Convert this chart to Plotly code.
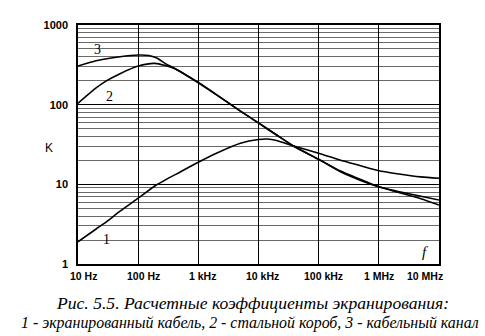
import numpy as np
import plotly.graph_objects as go

# ---- data ----
f1 = [10, 20, 30, 50, 100, 200, 500, 1e3, 2e3, 5e3, 1e4, 1.4e4, 2e4, 4e4, 1e5, 2.26e5, 5e5, 1e6, 2e6, 5e6, 1e7]
k1 = [1.9, 2.75, 3.4, 4.6, 6.7, 9.8, 14.3, 18.9, 24.5, 32.7, 36.5, 37, 35.5, 30, 24.5, 20.2, 17.1, 14.8, 13.6, 12.4, 11.9]

f2 = [10, 20, 30, 50, 100, 190, 400, 1e3, 2e3, 5e3, 1e4, 2e4, 4e4, 1e5, 2.26e5, 5e5, 1e6, 2e6, 5e6, 1e7]
k2 = [104, 162, 200, 245, 305, 330, 285, 188, 133, 83, 59, 41.6, 29.6, 20.6, 14.5, 11.2, 9.3, 8.0, 6.6, 5.5]

f3 = [10, 20, 50, 100, 150, 200, 300, 400, 1e3, 2e3, 5e3, 1e4, 2e4, 4e4, 1e5, 2.26e5, 5e5, 1e6, 2e6, 5e6, 1e7]
k3 = [305, 356, 400, 420, 415, 388, 320, 287, 190, 134, 83, 59, 41.6, 29.6, 20.6, 14.8, 11.5, 9.3, 8.2, 7.1, 6.35]

x_tickvals = [10, 100, 1e3, 1e4, 1e5, 1e6, 1e7]
x_ticktext = ["10 Hz", "100 Hz", "1 kHz", "10 kHz", "100 kHz", "1 MHz", "10 MHz"]
y_tickvals = [1, 10, 100, 1000]
y_ticktext = ["1", "10", "100", "1000"]

curve_labels = ["1", "2", "3"]
curve_label_pos = [(30, 2.06), (34, 128), (20.7, 499)]

caption1 = "Рис. 5.5. Расчетные коэффициенты экранирования:"
caption2 = "1 - экранированный кабель, 2 - стальной короб, 3 - кабельный канал"

# ---- styling ----
x_label_shift = [5, 5, 4, 4, 5, 0, -14]
minor_y = [m * 10 ** e for e in range(0, 3) for m in range(2, 10)]

fig = go.Figure()
for f, k in [(f1, k1), (f2, k2), (f3, k3)]:
    fig.add_trace(go.Scatter(x=f, y=k, mode="lines",
                             line=dict(color="black", width=1.6, shape="spline", smoothing=0.6),
                             showlegend=False, hoverinfo="skip"))

fig.update_layout(
    width=485, height=336,
    margin=dict(l=78, r=46, t=25, b=72),
    paper_bgcolor="white", plot_bgcolor="white",
    font=dict(family="Liberation Sans, Arial", color="black"),
)
fig.update_xaxes(type="log", range=[1, 7], tickvals=x_tickvals, showticklabels=False,
                 showgrid=True, gridcolor="black", gridwidth=1,
                 showline=True, linecolor="black", linewidth=1.5, mirror=True,
                 ticks="", zeroline=False)
fig.update_yaxes(type="log", range=[0, 3], tickvals=y_tickvals,
                 ticktext=["<b>" + t + "</b>" for t in y_ticktext],
                 tickfont=dict(size=11, family="Liberation Sans, Arial", color="black"),
                 showgrid=True, gridcolor="black", gridwidth=1,
                 minor=dict(tickvals=minor_y, showgrid=True, gridcolor="#6a6a6a", gridwidth=1, ticks=""),
                 showline=True, linecolor="black", linewidth=1.5, mirror=True,
                 ticks="", ticklabelstandoff=6, zeroline=False)

for v, t, s in zip(x_tickvals, x_ticktext, x_label_shift):
    fig.add_annotation(x=np.log10(v), y=0, xref="x", yref="paper", text="<b>" + t + "</b>",
                       showarrow=False, yanchor="top", yshift=-4, xshift=s,
                       font=dict(size=10.5, family="Liberation Sans, Arial", color="black"))

for t, (fx, ky) in zip(curve_labels, curve_label_pos):
    fig.add_annotation(x=np.log10(fx), y=np.log10(ky), xref="x", yref="y", text=t,
                       showarrow=False,
                       font=dict(size=14, family="Liberation Serif, Times New Roman", color="black"))

fig.add_annotation(x=np.log10(5.85e6), y=np.log10(1.43), xref="x", yref="y", text="<i>f</i>",
                   showarrow=False, font=dict(size=15, family="Liberation Serif", color="black"))
fig.add_annotation(x=-0.097, y=np.log10(28.5), xref="paper", yref="y", text="K",
                   showarrow=False, font=dict(size=12, family="Liberation Sans", color="black"))

fig.add_annotation(x=0.483, y=-0.163, xref="paper", yref="paper", text="<i>" + caption1 + "</i>",
                   showarrow=False, yanchor="middle",
                   font=dict(size=17.6, family="Liberation Serif", color="black"))
fig.add_annotation(x=0.476, y=-0.247, xref="paper", yref="paper", text="<i>" + caption2 + "</i>",
                   showarrow=False, yanchor="middle",
                   font=dict(size=15.9, family="Liberation Serif", color="black"))

fig.write_html("out.html")
